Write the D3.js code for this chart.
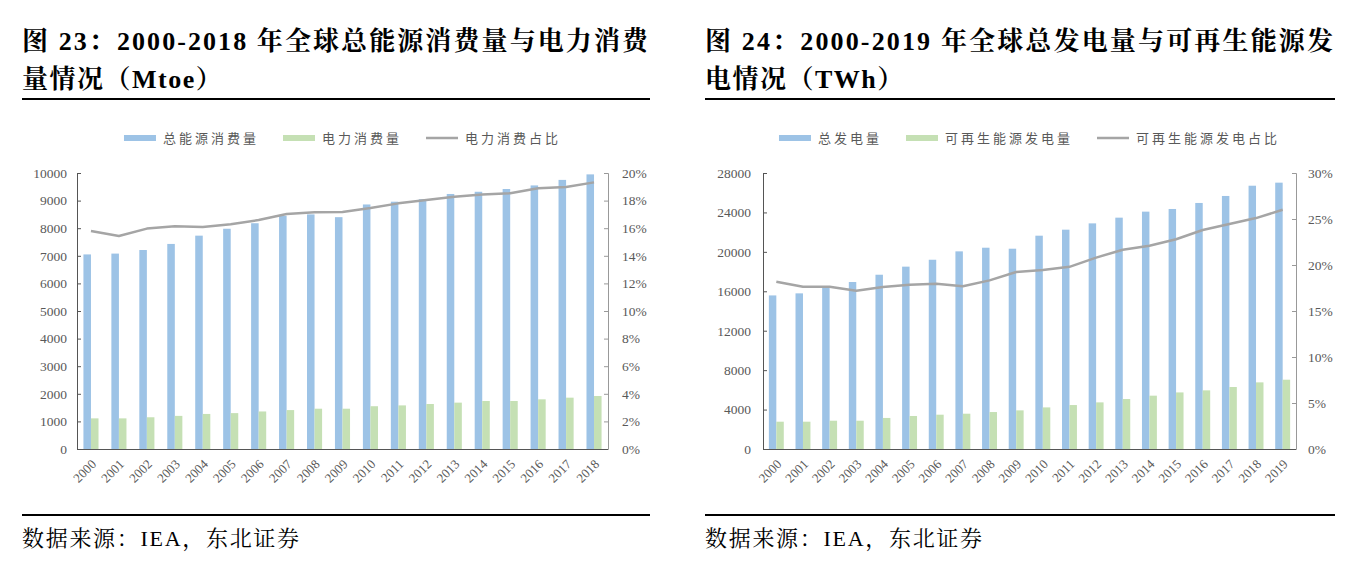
<!DOCTYPE html>
<html><head><meta charset="utf-8">
<script src="https://cdn.jsdelivr.net/npm/d3@7"></script>
<style>body{margin:0;background:#fff} svg{display:block}</style>
</head><body><svg id="c" width="1367" height="575"></svg>
<script>
// ---------- Data: chart 23 ----------
const years1 = ["2000","2001","2002","2003","2004","2005","2006","2007","2008","2009","2010","2011","2012","2013","2014","2015","2016","2017","2018"];
const totalEnergy = [7050,7080,7210,7430,7730,7980,8180,8450,8500,8400,8860,8960,9050,9240,9320,9420,9550,9750,9950];
const electricityUse = [1110,1110,1150,1200,1270,1300,1360,1410,1460,1460,1550,1580,1630,1680,1740,1740,1800,1860,1920];
const electricityShare = [15.8,15.43,15.97,16.14,16.09,16.28,16.59,17.03,17.15,17.17,17.46,17.8,18.04,18.28,18.45,18.53,18.89,18.99,19.32];
const leftYTicks = [0,1000,2000,3000,4000,5000,6000,7000,8000,9000,10000];
const leftY2Ticks = [0,2,4,6,8,10,12,14,16,18,20];
const legend1 = ["总能源消费量","电力消费量","电力消费占比"];
const title1 = ["图 23：2000-2018 年全球总能源消费量与电力消费","量情况（Mtoe）"];

// ---------- Data: chart 24 ----------
const years2 = ["2000","2001","2002","2003","2004","2005","2006","2007","2008","2009","2010","2011","2012","2013","2014","2015","2016","2017","2018","2019"];
const totalGeneration = [15580,15790,16450,16940,17680,18500,19200,20050,20420,20320,21640,22250,22890,23470,24080,24350,24960,25670,26710,27020];
const renewableGeneration = [2770,2770,2870,2870,3150,3350,3480,3580,3750,3920,4220,4460,4730,5070,5410,5740,5950,6290,6760,7030];
const renewableShare = [18.18,17.64,17.64,17.2,17.6,17.86,17.97,17.68,18.33,19.24,19.45,19.8,20.8,21.66,22.1,22.8,23.8,24.45,25.1,26.0];
const rightYTicks = [0,4000,8000,12000,16000,20000,24000,28000];
const rightY2Ticks = [0,5,10,15,20,25,30];
const legend2 = ["总发电量","可再生能源发电量","可再生能源发电占比"];
const title2 = ["图 24：2000-2019 年全球总发电量与可再生能源发","电情况（TWh）"];

const sourceText = "数据来源：IEA，东北证券";

// ---------- Styles ----------
const BLUE = "#9DC3E6", GREEN = "#C5E0B4", GRAY = "#A5A5A5", LABEL = "#595959";
const SERIF = "'Liberation Serif','Noto Serif CJK SC','Noto Sans CJK SC',serif";
const CJK = "'Noto Sans CJK SC','Liberation Serif',sans-serif";
const TOP = 173, BOTTOM = 449;

const svg = d3.select("#c");
svg.append("rect").attr("width",1367).attr("height",575).attr("fill","#fff");

function panel(cfg){
  const g = svg.append("g");
  // title
  g.append("text").attr("x",cfg.tx).attr("y",50).attr("font-family",SERIF).attr("font-weight","bold")
    .attr("font-size",26).attr("fill","#000").attr("textLength",cfg.tw).attr("lengthAdjust","spacing").text(cfg.title[0]);
  g.append("text").attr("x",cfg.tx).attr("y",88).attr("font-family",SERIF).attr("font-weight","bold")
    .attr("font-size",26).attr("letter-spacing","1.5px").attr("fill","#000").text(cfg.title[1]);
  g.append("line").attr("x1",cfg.tx).attr("x2",cfg.tx+cfg.tw+2).attr("y1",99).attr("y2",99).attr("stroke","#000").attr("stroke-width",2);
  g.append("line").attr("x1",cfg.tx).attr("x2",cfg.tx+cfg.tw+2).attr("y1",515).attr("y2",515).attr("stroke","#000").attr("stroke-width",2);
  g.append("text").attr("x",cfg.tx).attr("y",546).attr("font-family",SERIF).attr("font-size",22).attr("fill","#000")
    .attr("letter-spacing","1.7px").text(sourceText);

  const x = d3.scaleBand().domain(cfg.cats).range([cfg.left,cfg.right]).paddingInner(cfg.pad).paddingOuter(cfg.pad/2);
  const xs = d3.scaleBand().domain([0,1]).range([0,x.bandwidth()]);
  const y = d3.scaleLinear().domain([0,d3.max(cfg.yTicks)]).range([BOTTOM,TOP]);
  const y2 = d3.scaleLinear().domain([0,d3.max(cfg.y2Ticks)]).range([BOTTOM,TOP]);

  g.append("g").selectAll("rect").data(cfg.a).join("rect")
    .attr("x",(d,i)=>x(cfg.cats[i])+xs(0)).attr("y",d=>y(d))
    .attr("width",xs.bandwidth()).attr("height",d=>y(0)-y(d)).attr("fill",BLUE);
  g.append("g").selectAll("rect").data(cfg.b).join("rect")
    .attr("x",(d,i)=>x(cfg.cats[i])+xs(1)).attr("y",d=>y(d))
    .attr("width",xs.bandwidth()).attr("height",d=>y(0)-y(d)).attr("fill",GREEN);

  const line = d3.line().x((d,i)=>x(cfg.cats[i])+x.bandwidth()/2).y(d=>y2(d));
  g.append("path").datum(cfg.s).attr("d",line).attr("fill","none").attr("stroke",GRAY)
    .attr("stroke-width",2.5).attr("stroke-linejoin","round");

  const ya = g.append("g").attr("transform",`translate(${cfg.left},0)`)
    .call(d3.axisLeft(y).tickValues(cfg.yTicks).tickFormat(d3.format("d")).tickSize(-4).tickPadding(cfg.lpad));
  ya.select(".domain").attr("stroke","#555");
  ya.selectAll(".tick line").attr("stroke","#555");
  ya.selectAll("text").attr("font-family",SERIF).attr("font-size",13.5).attr("fill",LABEL);

  const yb = g.append("g").attr("transform",`translate(${cfg.right},0)`)
    .call(d3.axisRight(y2).tickValues(cfg.y2Ticks).tickFormat(d=>d+"%").tickSize(-4).tickPadding(cfg.rpad));
  yb.select(".domain").attr("stroke","#999");
  yb.selectAll(".tick line").attr("stroke","#999");
  yb.selectAll("text").attr("font-family",SERIF).attr("font-size",13.5).attr("fill",LABEL);

  g.append("line").attr("x1",cfg.left).attr("x2",cfg.right).attr("y1",BOTTOM+0.5).attr("y2",BOTTOM+0.5)
    .attr("stroke","#555").attr("stroke-width",1.2);

  g.append("g").selectAll("text").data(cfg.cats).join("text")
    .attr("transform",d=>`translate(${x(d)+x.bandwidth()/2+6},465) rotate(-45)`)
    .attr("text-anchor","end").attr("font-family",SERIF).attr("font-size",13).attr("fill",LABEL).text(d=>d);

  // legend
  const lg = g.append("g");
  const sw = 32, gap1 = 7, gap2 = 24;
  let cx = 0;
  const kinds = ["a","b","s"];
  cfg.legend.forEach((lab,i)=>{
    if(kinds[i]==="s"){
      lg.append("line").attr("x1",cx).attr("x2",cx+sw).attr("y1",138).attr("y2",138).attr("stroke",GRAY).attr("stroke-width",2.5);
    } else {
      lg.append("rect").attr("x",cx).attr("y",135).attr("width",sw).attr("height",6).attr("fill",i===0?BLUE:GREEN);
    }
    cx += sw+gap1;
    const t = lg.append("text").attr("x",cx).attr("y",143).attr("font-family",CJK).attr("font-size",13)
      .attr("letter-spacing","3px").attr("fill",LABEL).text(lab);
    cx += t.node().getComputedTextLength() + gap2;
  });
  const total = cx - gap2;
  lg.attr("transform",`translate(${(cfg.left+cfg.right)/2 - total/2},0)`);
}

panel({tx:22,tw:626,title:title1,cats:years1,a:totalEnergy,b:electricityUse,s:electricityShare,
  left:77,right:608,pad:0.46,yTicks:leftYTicks,y2Ticks:leftY2Ticks,lpad:10,rpad:14,legend:legend1});
panel({tx:705,tw:628,title:title2,cats:years2,a:totalGeneration,b:renewableGeneration,s:renewableShare,
  left:763,right:1296,pad:0.44,yTicks:rightYTicks,y2Ticks:rightY2Ticks,lpad:12,rpad:12,legend:legend2});
</script></body></html>
